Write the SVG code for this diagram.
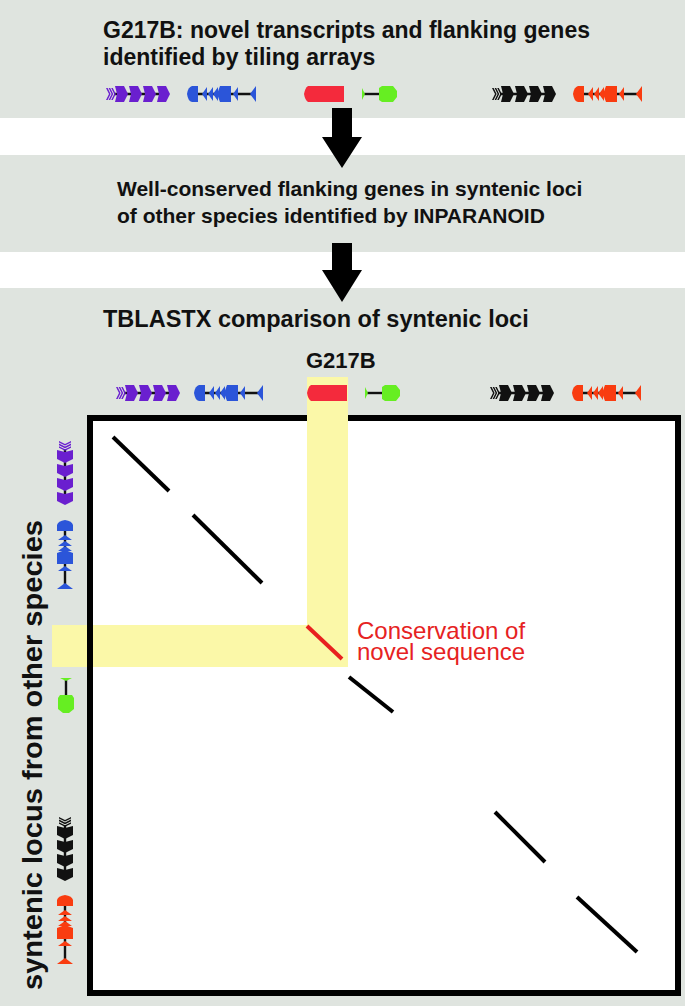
<svg xmlns="http://www.w3.org/2000/svg" width="685" height="1006" viewBox="0 0 685 1006">
<style>
.panel{fill:#dfe4df}
.t{font-family:"Liberation Sans",Arial,sans-serif;font-weight:bold;fill:#111}
.r{font-family:"Liberation Sans",Arial,sans-serif;font-size:24px;fill:#e62222}
.hl{fill:#fbf8a8}
.diag{stroke:#000;stroke-width:4;fill:none}
.ln{stroke:#111;stroke-width:2.4;fill:none}
</style>
<defs>
<g id="fwd">
<path class="ln" d="M8,0 H62"/>
<path d="M0,-6 h1.6 l3,6 l-3,6 h-1.6 l3,-6 Z M2.6,-6 h1.6 l3,6 l-3,6 h-1.6 l3,-6 Z M5.2,-6 h1.6 l3,6 l-3,6 h-1.6 l3,-6 Z"/>
<path d="M9,-8 h9 l4,8 l-4,8 h-9 l2,-8 Z M23,-8 h9 l4,8 l-4,8 h-9 l2,-8 Z M37,-8 h9 l4,8 l-4,8 h-9 l2,-8 Z M51,-8 h9 l4,8 l-4,8 h-9 l2,-8 Z"/>
</g>
<g id="rev">
<path class="ln" d="M6,0 H67"/>
<path d="M0,0 Q1,-7 5,-8 H11 V8 H5 Q1,7 0,0 Z"/>
<path d="M15,0 l5,-7 v14 Z M21,0 l5,-7 v14 Z M26,0 l5,-7 v14 Z"/>
<path d="M30,0 L33,-8 H44 V8 H33 Z"/>
<path d="M46,0 l5,-7 v14 Z"/>
<path d="M63,0 L69,-8 V8 Z"/>
</g>
<g id="red">
<path d="M0,0 Q1,-6 4,-8 H40 V8 H4 Q1,6 0,0 Z" fill="#f42a3c"/>
</g>
<g id="grn">
<path class="ln" d="M1,0 H19"/>
<path d="M0,-6 L3,0 L0,6 Z M17,-6 L20,-8 H26 V8 H20 L17,6 Z M26,-8 H31 L35,-3 V3 L31,8 H26 Z" fill="#66ee22"/>
</g>
</defs>

<rect width="685" height="1006" fill="#ffffff"/>
<g id="panel1">
<rect class="panel" x="0" y="0" width="685" height="118"/>
<text class="t" x="103" y="38" font-size="23">G217B: novel transcripts and flanking genes</text>
<text class="t" x="103" y="65" font-size="23">identified by tiling arrays</text>
</g>
<g id="panel2">
<rect class="panel" x="0" y="155" width="685" height="97"/>
<text class="t" x="117" y="196" font-size="21">Well-conserved flanking genes in syntenic loci</text>
<text class="t" x="117" y="223" font-size="21">of other species identified by INPARANOID</text>
</g>
<g id="panel3">
<rect class="panel" x="0" y="288" width="685" height="718"/>
<text class="t" x="103" y="327" font-size="23.5">TBLASTX comparison of syntenic loci</text>
<text class="t" x="306" y="368" font-size="22">G217B</text>
</g>

<g id="row1-genes">
<use href="#fwd" transform="translate(106,94)" fill="#6a1fcf"/>
<use href="#rev" transform="translate(187,94)" fill="#2b55d9"/>
<use href="#red" transform="translate(304,94)"/>
<use href="#grn" transform="translate(362,94)"/>
<use href="#fwd" transform="translate(492,94)" fill="#111"/>
<use href="#rev" transform="translate(573,94)" fill="#f93c10"/>
</g>

<g id="dotplot">
<rect x="90" y="418" width="588" height="575" fill="#ffffff"/>
<rect id="hl-row" class="hl" x="52" y="625" width="296" height="42"/>
<rect x="90" y="418" width="588" height="575" fill="none" stroke="#000" stroke-width="6"/>
<rect id="hl-col" class="hl" x="307" y="377" width="41" height="290"/>
<line class="diag" x1="113" y1="437" x2="169" y2="491"/>
<line class="diag" x1="193" y1="515" x2="262" y2="583"/>
<line x1="307" y1="626" x2="342" y2="659" style="stroke:#e8201f;stroke-width:4"/>
<line class="diag" x1="349" y1="677" x2="393" y2="712"/>
<line class="diag" x1="495" y1="812" x2="545" y2="862"/>
<line class="diag" x1="577" y1="897" x2="637" y2="952"/>
</g>

<g id="row2-genes">
<use href="#fwd" transform="translate(116,393)" fill="#6a1fcf"/>
<use href="#rev" transform="translate(194,393)" fill="#2b55d9"/>
<use href="#red" transform="translate(307,393)"/>
<use href="#grn" transform="translate(365,393)"/>
<use href="#fwd" transform="translate(490,393)" fill="#111"/>
<use href="#rev" transform="translate(572,393)" fill="#f93c10"/>
</g>

<g id="col-genes">
<use href="#fwd" transform="translate(65,441) rotate(90)" fill="#6a1fcf"/>
<use href="#rev" transform="translate(65,520) rotate(90)" fill="#2b55d9"/>
<use href="#grn" transform="translate(66,678) rotate(90)"/>
<use href="#fwd" transform="translate(65,817) rotate(90)" fill="#111"/>
<use href="#rev" transform="translate(65,895) rotate(90)" fill="#f93c10"/>
</g>

<g id="label-conservation">
<text class="r" x="357" y="639">Conservation of</text>
<text class="r" x="357" y="660">novel sequence</text>
</g>
<g id="label-axis">
<text class="t" font-size="27" transform="translate(42,990) rotate(-90)" textLength="470" lengthAdjust="spacingAndGlyphs">syntenic locus from other species</text>
</g>

<g id="connectors">
<path d="M332,108 H352 V137 H362 L342,168 L322,137 H332 Z" fill="#000"/>
<path d="M332,243 H352 V270 H362 L342,302 L322,270 H332 Z" fill="#000"/>
</g>
</svg>
